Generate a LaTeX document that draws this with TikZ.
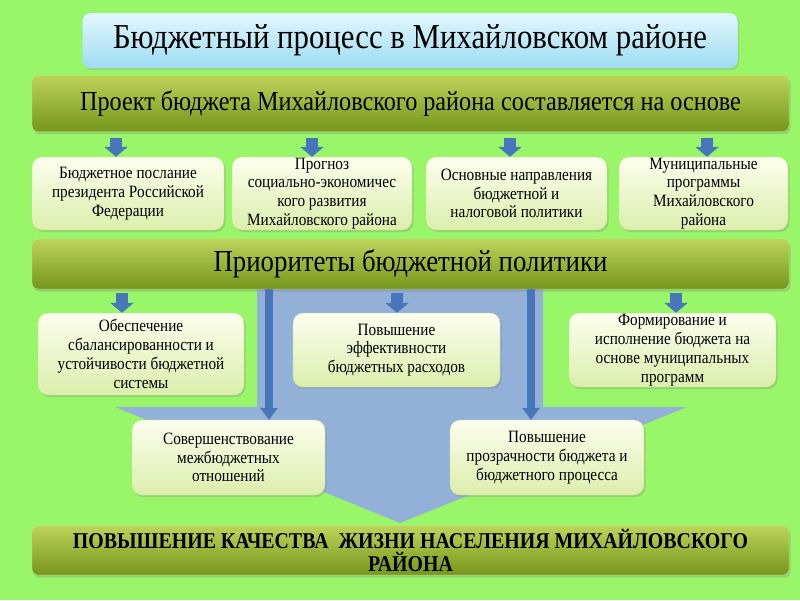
\documentclass[tikz,border=0pt]{standalone}
\usepackage{fontspec}
\setmainfont{Liberation Serif}[FakeStretch=0.88]
\usetikzlibrary{arrows.meta,shadows}
\definecolor{bggreen}{RGB}{152,246,104}
\definecolor{flowblue}{RGB}{147,177,216}
\definecolor{arrblue}{RGB}{72,118,186}
\definecolor{bartop}{RGB}{190,210,88}
\definecolor{barbot}{RGB}{118,150,28}
\definecolor{boxtop}{RGB}{252,254,238}
\definecolor{boxbot}{RGB}{220,238,172}
\definecolor{boxline}{RGB}{196,226,140}
\definecolor{titletop}{RGB}{226,247,253}
\definecolor{titlebot}{RGB}{158,220,242}
\tikzset{
  titlebox/.style={rounded corners=8pt, top color=titletop, bottom color=titlebot,
    draw=titlebot!80!white, drop shadow={opacity=0.25,shadow xshift=1.5pt,shadow yshift=-2pt},
    font=\fontsize{35}{40}\selectfont},
  bar/.style={rounded corners=6pt, top color=bartop, bottom color=barbot,
    draw=bartop!70!white, minimum width=757pt,
    drop shadow={opacity=0.3,shadow xshift=1.5pt,shadow yshift=-2.5pt},
    font=\fontsize{27.5}{30}\selectfont},
  infobox/.style={rounded corners=10pt, top color=boxtop, bottom color=boxbot,
    draw=boxline, align=center, inner sep=0pt,
    drop shadow={opacity=0.3,shadow xshift=1.5pt,shadow yshift=-2pt},
    font=\fontsize{17.3}{18.8}\selectfont},
  smallarr/.style={draw=arrblue, line width=12pt, -{Triangle[width=23pt,length=10pt]}},
  longarr/.style={draw=arrblue, line width=8pt, -{Triangle[width=17pt,length=12pt]}}
}
\begin{document}
\begin{tikzpicture}[x=1pt, y=-1pt]
  \useasboundingbox (0,0) rectangle (800,600);
  \fill[bggreen] (0,0) rectangle (800,600);
  % big flow arrow behind the boxes
  \fill[flowblue] (257,289) -- (543,289) -- (543,407) -- (687,407) -- (400,523)
    -- (115,407) -- (257,407) -- cycle;

  \node[titlebox, minimum width=655pt, minimum height=55pt] (title) at (410,40.5)
    {Бюджетный процесс в Михайловском районе};
  \node[bar, minimum height=56pt] (bar1) at (410.5,103.5)
    {Проект бюджета Михайловского района составляется на основе};

  \node[infobox, minimum width=192pt, minimum height=73pt] (b1) at (128,193.5)
    {Бюджетное послание\\президента Российской\\Федерации};
  \node[infobox, minimum width=180pt, minimum height=73pt] (b2) at (322,193.5)
    {Прогноз\\социально-экономичес\\кого развития\\Михайловского района};
  \node[infobox, minimum width=181pt, minimum height=73pt] (b3) at (516.5,193.5)
    {Основные направления\\бюджетной и\\налоговой политики};
  \node[infobox, minimum width=169pt, minimum height=73pt] (b4) at (703.5,193.5)
    {Муниципальные\\программы\\Михайловского\\района};

  \node[bar, minimum height=50pt, font=\fontsize{30.5}{34}\selectfont] (bar2) at (410.5,264)
    {Приоритеты бюджетной политики};

  \node[infobox, minimum width=206pt, minimum height=82pt] (p1) at (141,354)
    {Обеспечение\\сбалансированности и\\устойчивости бюджетной\\системы};
  \node[infobox, minimum width=207pt, minimum height=74pt] (p2) at (396.5,350)
    {Повышение\\эффективности\\бюджетных расходов};
  \node[infobox, minimum width=207pt, minimum height=74pt] (p3) at (672.5,350)
    {Формирование и\\исполнение бюджета на\\основе муниципальных\\программ};
  \node[infobox, minimum width=193pt, minimum height=75pt] (p4) at (228.5,457.5)
    {Совершенствование\\межбюджетных\\отношений};
  \node[infobox, minimum width=194pt, minimum height=75pt] (p5) at (547,457.5)
    {Повышение\\прозрачности бюджета и\\бюджетного процесса};

  \node[bar, minimum height=49pt, align=center, font=\fontsize{22.6}{23}\selectfont\bfseries]
    (bar3) at (410.5,550.5)
    {ПОВЫШЕНИЕ КАЧЕСТВА\ \ ЖИЗНИ НАСЕЛЕНИЯ МИХАЙЛОВСКОГО\\РАЙОНА};

  % arrows
  \foreach \b/\dx in {b1/-12,b2/-10,b3/-6.5,b4/3.5}
    \draw[smallarr] ([xshift=\dx pt,yshift=19pt]\b.north) -- ([xshift=\dx pt]\b.north);
  \foreach \b/\dx in {p1/-19,p2/0.5,p3/3.5}
    \draw[smallarr] ([xshift=\dx pt,yshift=20pt]\b.north) -- ([xshift=\dx pt]\b.north);
  \coordinate (t1) at ([xshift=40.5pt]p4.north);
  \coordinate (t2) at ([xshift=-16pt]p5.north);
  \draw[longarr] (t1 |- bar2.south) -- (t1);
  \draw[longarr] (t2 |- bar2.south) -- (t2);
\end{tikzpicture}
\end{document}
